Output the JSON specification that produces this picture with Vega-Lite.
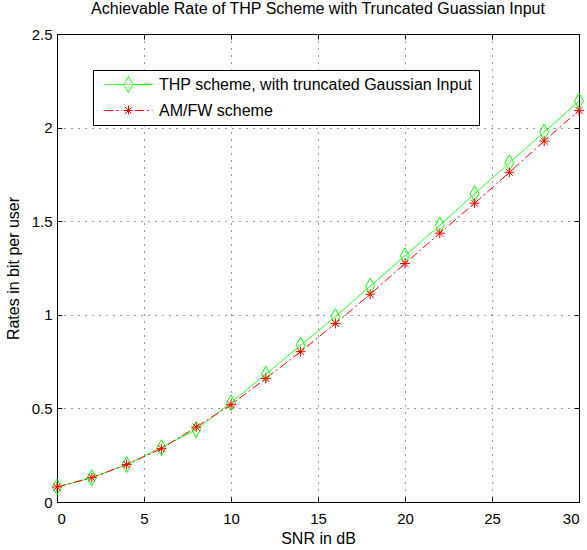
{
  "$schema": "https://vega.github.io/schema/vega-lite/v6.json",
  "width": 522,
  "height": 468,
  "autosize": {"type": "none"},
  "padding": {"left": 57, "top": 34, "right": 8, "bottom": 48},
  "background": "white",
  "title": {
    "text": "Achievable Rate of THP Scheme with Truncated Guassian Input",
    "font": "Liberation Sans",
    "fontSize": 16,
    "fontWeight": "normal",
    "color": "black",
    "anchor": "middle",
    "offset": 10
  },
  "config": {
    "view": {"stroke": "black", "strokeWidth": 1},
    "axis": {
      "labelFont": "Liberation Sans",
      "labelFontSize": 15,
      "labelColor": "black",
      "titleFont": "Liberation Sans",
      "titleFontSize": 16,
      "titleFontWeight": "normal",
      "titleColor": "black",
      "domainColor": "black",
      "tickColor": "black",
      "gridColor": "#333",
      "gridDash": [1, 6],
      "gridWidth": 1
    }
  },
  "data": {
    "values": [
      {"snr": 0, "rate": 0.08, "series": "THP scheme, with truncated Gaussian Input"},
      {"snr": 2, "rate": 0.13, "series": "THP scheme, with truncated Gaussian Input"},
      {"snr": 4, "rate": 0.20, "series": "THP scheme, with truncated Gaussian Input"},
      {"snr": 6, "rate": 0.29, "series": "THP scheme, with truncated Gaussian Input"},
      {"snr": 8, "rate": 0.387, "series": "THP scheme, with truncated Gaussian Input"},
      {"snr": 10, "rate": 0.53, "series": "THP scheme, with truncated Gaussian Input"},
      {"snr": 12, "rate": 0.683, "series": "THP scheme, with truncated Gaussian Input"},
      {"snr": 14, "rate": 0.837, "series": "THP scheme, with truncated Gaussian Input"},
      {"snr": 16, "rate": 0.99, "series": "THP scheme, with truncated Gaussian Input"},
      {"snr": 18, "rate": 1.153, "series": "THP scheme, with truncated Gaussian Input"},
      {"snr": 20, "rate": 1.315, "series": "THP scheme, with truncated Gaussian Input"},
      {"snr": 22, "rate": 1.478, "series": "THP scheme, with truncated Gaussian Input"},
      {"snr": 24, "rate": 1.647, "series": "THP scheme, with truncated Gaussian Input"},
      {"snr": 26, "rate": 1.812, "series": "THP scheme, with truncated Gaussian Input"},
      {"snr": 28, "rate": 1.976, "series": "THP scheme, with truncated Gaussian Input"},
      {"snr": 30, "rate": 2.141, "series": "THP scheme, with truncated Gaussian Input"},
      {"snr": 0, "rate": 0.08, "series": "AM/FW scheme"},
      {"snr": 2, "rate": 0.13, "series": "AM/FW scheme"},
      {"snr": 4, "rate": 0.20, "series": "AM/FW scheme"},
      {"snr": 6, "rate": 0.285, "series": "AM/FW scheme"},
      {"snr": 8, "rate": 0.40, "series": "AM/FW scheme"},
      {"snr": 10, "rate": 0.52, "series": "AM/FW scheme"},
      {"snr": 12, "rate": 0.66, "series": "AM/FW scheme"},
      {"snr": 14, "rate": 0.803, "series": "AM/FW scheme"},
      {"snr": 16, "rate": 0.954, "series": "AM/FW scheme"},
      {"snr": 18, "rate": 1.11, "series": "AM/FW scheme"},
      {"snr": 20, "rate": 1.274, "series": "AM/FW scheme"},
      {"snr": 22, "rate": 1.436, "series": "AM/FW scheme"},
      {"snr": 24, "rate": 1.596, "series": "AM/FW scheme"},
      {"snr": 26, "rate": 1.761, "series": "AM/FW scheme"},
      {"snr": 28, "rate": 1.928, "series": "AM/FW scheme"},
      {"snr": 30, "rate": 2.092, "series": "AM/FW scheme"}
    ]
  },
  "resolve": {"axis": {"x": "independent", "y": "independent"}},
  "layer": [
    {
      "mark": {"type": "line", "strokeWidth": 1},
      "encoding": {
        "x": {
          "field": "snr", "type": "quantitative",
          "scale": {"domain": [0, 30], "nice": false, "zero": false},
          "axis": {"values": [0, 5, 10, 15, 20, 25, 30], "tickSize": -5, "labelPadding": 14, "title": "SNR in dB", "titlePadding": 4, "grid": true}
        },
        "y": {
          "field": "rate", "type": "quantitative",
          "scale": {"domain": [0, 2.5], "nice": false},
          "axis": {"values": [0, 0.5, 1, 1.5, 2, 2.5], "format": "~g", "tickSize": -5, "labelPadding": 10, "title": "Rates in bit per user", "titlePadding": 10, "grid": true}
        },
        "color": {
          "field": "series", "type": "nominal",
          "scale": {"domain": ["THP scheme, with truncated Gaussian Input", "AM/FW scheme"], "range": ["#00ff00", "#ff0000"]},
          "legend": {
            "title": null,
            "orient": "none",
            "legendX": 36,
            "legendY": 36,
            "direction": "vertical",
            "labelFont": "Liberation Sans",
            "labelFontSize": 16,
            "labelColor": "black",
            "labelLimit": 500,
            "symbolSize": 256,
            "symbolStrokeWidth": 1,
            "symbolOffset": 21,
            "labelOffset": 22,
            "rowPadding": 7,
            "padding": 6,
            "strokeColor": "black",
            "fillColor": "white",
            "cornerRadius": 0,
            "symbolType": {"expr": "datum.value === 'AM/FW scheme' ? 'M-3,0L-0.8,0M0.8,0L3,0M0,-0.62L0,0.62M-0.62,0L0.62,0M-0.44,-0.44L0.44,0.44M-0.44,0.44L0.44,-0.44' : 'M-3,0L-0.56,0M0.56,0L3,0M0,-1L0.56,0L0,1L-0.56,0Z'"}
          }
        },
        "strokeDash": {
          "field": "series", "type": "nominal",
          "scale": {"domain": ["THP scheme, with truncated Gaussian Input", "AM/FW scheme"], "range": [[1, 0], [9, 3, 2, 3]]}
        }
      }
    },
    {
      "transform": [{"filter": "datum.series === 'THP scheme, with truncated Gaussian Input'"}],
      "mark": {"type": "point", "filled": false, "size": 256, "strokeWidth": 1, "opacity": 1, "color": "#00ff00", "shape": "M0,-1L0.56,0L0,1L-0.56,0Z"},
      "encoding": {
        "x": {"field": "snr", "type": "quantitative", "axis": null},
        "y": {"field": "rate", "type": "quantitative", "axis": null}
      }
    },
    {
      "transform": [{"filter": "datum.series === 'AM/FW scheme'"}],
      "mark": {"type": "point", "filled": false, "size": 256, "strokeWidth": 1, "opacity": 1, "color": "#ff0000", "shape": "M0,-0.62L0,0.62M-0.62,0L0.62,0M-0.44,-0.44L0.44,0.44M-0.44,0.44L0.44,-0.44"},
      "encoding": {
        "x": {"field": "snr", "type": "quantitative", "axis": null},
        "y": {"field": "rate", "type": "quantitative", "axis": null}
      }
    },
    {
      "mark": {"type": "point", "opacity": 0},
      "encoding": {
        "x": {"field": "snr", "type": "quantitative", "axis": {"orient": "top", "values": [0, 5, 10, 15, 20, 25, 30], "tickSize": -5, "labels": false, "title": null, "grid": false, "domain": true}},
        "y": {"field": "rate", "type": "quantitative", "axis": {"orient": "right", "values": [0, 0.5, 1, 1.5, 2, 2.5], "tickSize": -5, "labels": false, "title": null, "grid": false, "domain": true}}
      }
    }
  ]
}
